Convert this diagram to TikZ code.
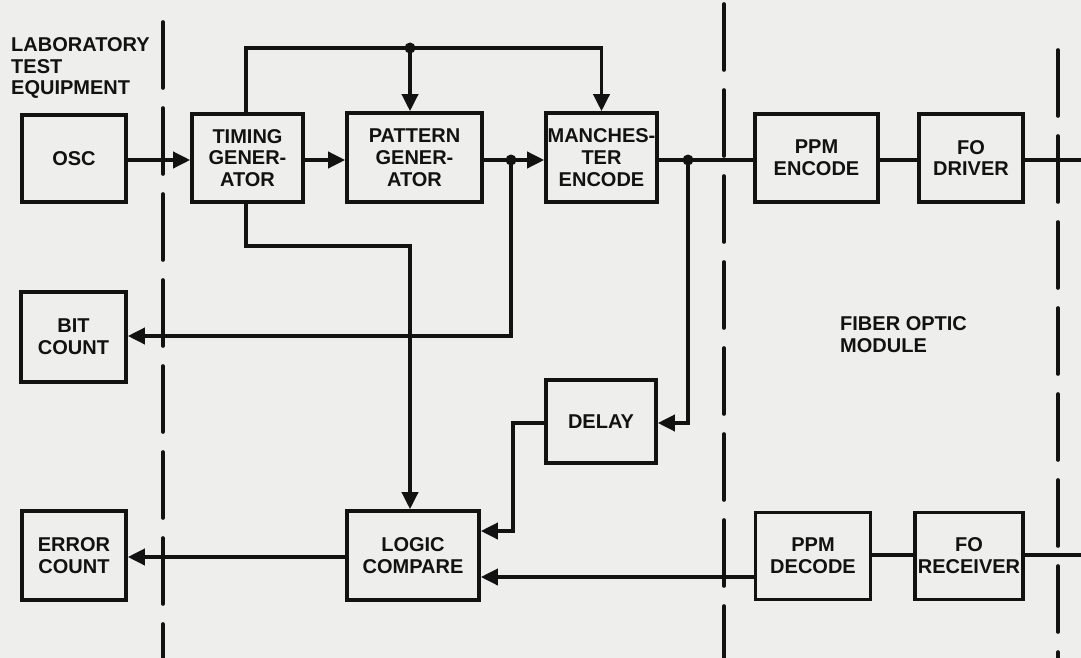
\documentclass[tikz,border=0pt]{standalone}
\usepackage{fontspec}
\setmainfont{Liberation Sans}
\usetikzlibrary{arrows.meta,calc}
\definecolor{paper}{RGB}{238,238,236}
\definecolor{ink}{RGB}{18,18,18}
\begin{document}
\begin{tikzpicture}[x=1pt,y=-1pt,
  txt/.style={font=\fontsize{20}{21.8}\selectfont\bfseries, text=ink},
  blk/.style={txt, draw=ink, line width=3.6pt, inner sep=0pt, align=center},
  wire/.style={draw=ink, line width=3.6pt},
  arr/.style={-{Triangle[length=17pt,width=16pt]}},
  sepline/.style={draw=ink, line width=3.6pt, dash pattern=on 66pt off 20pt, line cap=round},
  lbl/.style={txt, inner sep=0pt, align=left}]
\fill[paper] (0,0) rectangle (1081,658);
\useasboundingbox (0,0) rectangle (1081,658);

% separator lines
\coordinate (s1a) at (163,22);  \coordinate (s1b) at (163,658);
\coordinate (s2a) at (724,4);   \coordinate (s2b) at (724,658);
\coordinate (s3a) at (1058,50); \coordinate (s3b) at (1058,658);
\draw[sepline] (s1a) -- (s1b);
\draw[sepline] (s2a) -- (s2b);
\draw[sepline] (s3a) -- (s3b);

% labels (base anchor = baseline of the last line)
\node[lbl, anchor=base west] (lab) at (11,95) {LABORATORY\\TEST\\EQUIPMENT};
\node[lbl, anchor=base west] (fom) at (840,352) {FIBER OPTIC\\MODULE};

% blocks
\node[blk, minimum width=104pt, minimum height=87pt] (osc) at (74,158.5) {OSC};
\node[blk, minimum width=111pt, minimum height=88pt] (tim) at (247.5,158) {TIMING\\GENER-\\ATOR};
\node[blk, minimum width=135pt, minimum height=89pt] (pat) at (414.5,157.5) {PATTERN\\GENER-\\ATOR};
\node[blk, minimum width=111pt, minimum height=89pt] (man) at (601.5,157.5) {MANCHES-\\TER\\ENCODE};
\node[blk, minimum width=123pt, minimum height=88pt] (ppe) at (816.5,158) {PPM\\ENCODE};
\node[blk, minimum width=104pt, minimum height=88pt] (fod) at (971,158) {FO\\DRIVER};
\node[blk, minimum width=105pt, minimum height=90pt] (bit) at (73.5,337) {BIT\\COUNT};
\node[blk, minimum width=110pt, minimum height=83pt] (dly) at (601,421.5) {DELAY};
\node[blk, minimum width=104pt, minimum height=89pt] (err) at (74,555.5) {ERROR\\COUNT};
\node[blk, minimum width=132pt, minimum height=89pt] (lgc) at (413,555.5) {LOGIC\\COMPARE};
\node[blk, minimum width=115pt, minimum height=87pt] (ppd) at (813,556) {PPM\\DECODE};
\node[blk, minimum width=108pt, minimum height=87pt] (frc) at (969,556) {FO\\RECEIVER};

% row coordinates
\coordinate (rA) at (0,160);
\coordinate (rBit) at (0,336);
\coordinate (rDly) at (0,423);
\coordinate (rL1) at (0,531);
\coordinate (rErr) at (0,557);
\coordinate (rR) at (0,555);
\coordinate (rL2) at (0,577);
\coordinate (j1) at (511,160);
\coordinate (j2) at (688,160);
\coordinate (j3) at (410,48);
\coordinate (tx) at (246,48);
\coordinate (mx) at (246,246);
\coordinate (mx2) at (410,246);
\coordinate (dx) at (513,423);
\coordinate (outA) at (1081,160);
\coordinate (outB) at (1081,555);

% main signal path
\draw[wire,arr] (osc.east |- rA) -- (tim.west |- rA);
\draw[wire,arr] (tim.east |- rA) -- (pat.west |- rA);
\draw[wire,arr] (pat.east |- rA) -- (man.west |- rA);
\draw[wire] (man.east |- rA) -- (ppe.west |- rA);
\draw[wire] (ppe.east |- rA) -- (fod.west |- rA);
\draw[wire] (fod.east |- rA) -- (outA);

% clock bus
\draw[wire,arr] (tim.north -| tx) -- (tx) -| (man.north);
\draw[wire,arr] (j3) -- (pat.north -| j3);
\draw[wire,arr] (tim.south -| mx) -- (mx) -- (mx2) -- (lgc.north -| mx2);

% taps
\draw[wire,arr] (j1) |- (bit.east |- rBit);
\draw[wire,arr] (j2) |- (dly.east |- rDly);
\draw[wire,arr] (dly.west |- rDly) -- (dx) |- (lgc.east |- rL1);

% receive path
\draw[wire] (frc.east |- rR) -- (outB);
\draw[wire] (ppd.east |- rR) -- (frc.west |- rR);
\draw[wire,arr] (ppd.west |- rL2) -- (lgc.east |- rL2);
\draw[wire,arr] (lgc.west |- rErr) -- (err.east |- rErr);

% junction dots
\fill[ink] (j1) circle (5.5pt);
\fill[ink] (j2) circle (5.5pt);
\fill[ink] (j3) circle (5.5pt);
\end{tikzpicture}
\end{document}
